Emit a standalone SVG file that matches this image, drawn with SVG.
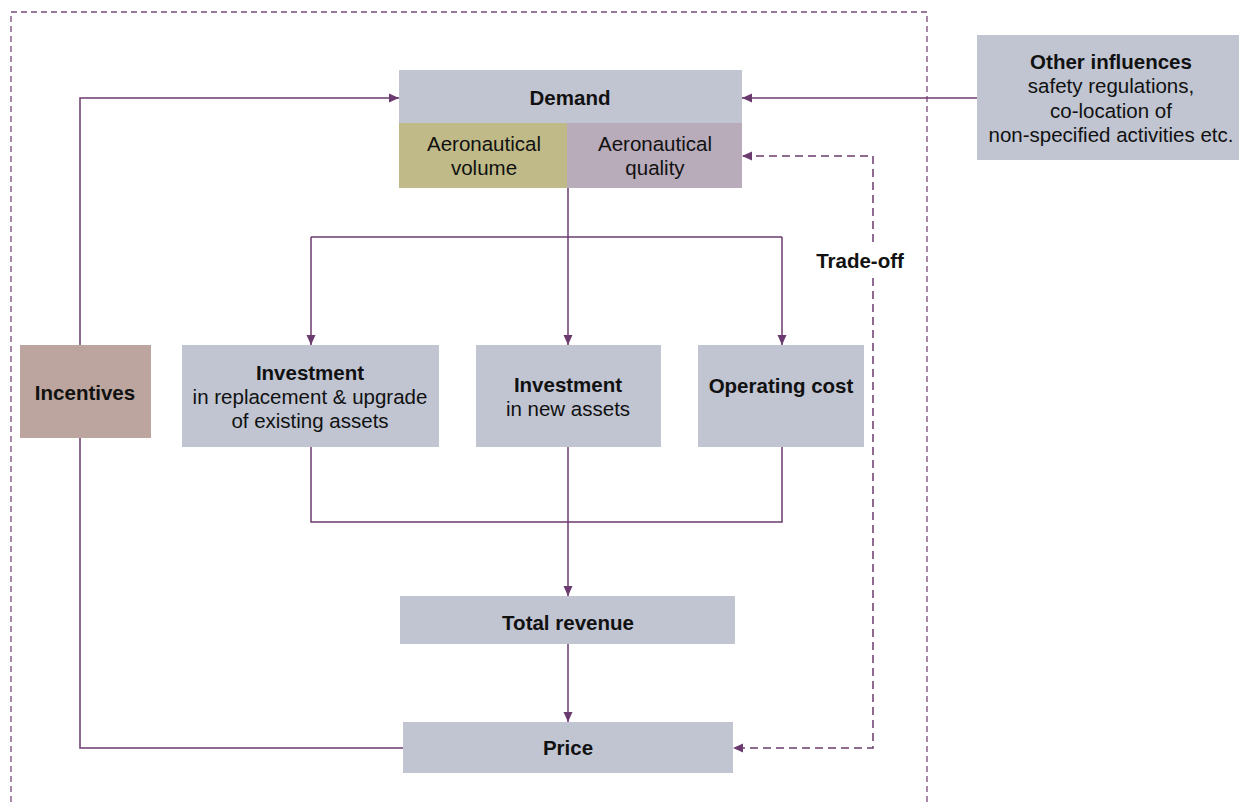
<svg xmlns="http://www.w3.org/2000/svg" width="1239" height="802" viewBox="0 0 1239 802">
  <style>
    text { font-family: "Liberation Sans", Arial, sans-serif; font-size: 20.5px; fill: #111; text-anchor: middle; }
    .b { font-weight: bold; }
    .box { fill: #C0C5D1; }
    .ln { fill: none; stroke: #6B3A6E; stroke-width: 1.5; }
    .dash { fill: none; stroke: #6B3A6E; stroke-width: 1.5; stroke-dasharray: 8 5; }
    .frame { fill: none; stroke: #7A4A7B; stroke-width: 1.3; stroke-dasharray: 6 4; }
  </style>
  <defs>
    <marker id="ah" viewBox="0 0 10 10" refX="10" refY="5" markerWidth="10" markerHeight="10" markerUnits="userSpaceOnUse" orient="auto">
      <path d="M0,0.5 L10,5 L0,9.5 Z" fill="#6B3A6E"/>
    </marker>
  </defs>

  <rect width="1239" height="802" fill="#fff"/>

  <!-- system boundary -->
  <path class="frame" d="M11,812 V12 H927 V812"/>

  <g id="connectors">
    <!-- incentives feed back into demand and price -->
    <path class="ln" d="M80,345 V98 H399" marker-end="url(#ah)"/>
    <path class="ln" d="M80,438 V748 H403"/>
    <!-- other influences -->
    <path class="ln" d="M977,98 H742" marker-end="url(#ah)"/>
    <!-- demand splits into cost drivers -->
    <path class="ln" d="M568,188 V237"/>
    <path class="ln" d="M311,237 H782"/>
    <path class="ln" d="M311,237 V345" marker-end="url(#ah)"/>
    <path class="ln" d="M568,237 V345" marker-end="url(#ah)"/>
    <path class="ln" d="M782,237 V345" marker-end="url(#ah)"/>
    <!-- cost drivers combine into revenue -->
    <path class="ln" d="M311,447 V522 H782 V447"/>
    <path class="ln" d="M568,447 V596" marker-end="url(#ah)"/>
    <path class="ln" d="M568,644 V722" marker-end="url(#ah)"/>
    <!-- trade-off between quality and price -->
    <path class="dash" d="M873,242 V156 H742" marker-end="url(#ah)"/>
    <path class="dash" d="M873,278 V748 H733" marker-end="url(#ah)"/>
    <text class="b" x="860" y="268">Trade-off</text>
  </g>

  <g id="demand">
    <rect class="box" x="399" y="70" width="343" height="53"/>
    <text class="b" x="570" y="105">Demand</text>
  </g>
  <g id="aero-volume">
    <rect x="399" y="123" width="168" height="65" fill="#BFBA87"/>
    <text x="484" y="151">Aeronautical</text>
    <text x="484" y="175">volume</text>
  </g>
  <g id="aero-quality">
    <rect x="567" y="123" width="175" height="65" fill="#B8ABBA"/>
    <text x="655" y="151">Aeronautical</text>
    <text x="655" y="175">quality</text>
  </g>

  <g id="other-influences">
    <rect class="box" x="977" y="35" width="262" height="125"/>
    <text class="b" x="1111" y="69">Other influences</text>
    <text x="1111" y="93">safety regulations,</text>
    <text x="1111" y="118">co-location of</text>
    <text x="1111" y="142">non-specified activities  etc.</text>
  </g>

  <g id="incentives">
    <rect x="20" y="345" width="131" height="93" fill="#BBA59E"/>
    <text class="b" x="85" y="400">Incentives</text>
  </g>

  <g id="invest-replacement">
    <rect class="box" x="182" y="345" width="257" height="102"/>
    <text class="b" x="310" y="380">Investment</text>
    <text x="310" y="404">in replacement &amp; upgrade</text>
    <text x="310" y="428">of existing assets</text>
  </g>

  <g id="invest-new">
    <rect class="box" x="476" y="345" width="185" height="102"/>
    <text class="b" x="568" y="392">Investment</text>
    <text x="568" y="416">in new assets</text>
  </g>

  <g id="operating-cost">
    <rect class="box" x="698" y="345" width="166" height="102"/>
    <text class="b" x="781" y="393">Operating cost</text>
  </g>

  <g id="total-revenue">
    <rect class="box" x="400" y="596" width="335" height="48"/>
    <text class="b" x="568" y="630">Total revenue</text>
  </g>

  <g id="price">
    <rect class="box" x="403" y="722" width="330" height="51"/>
    <text class="b" x="568" y="755">Price</text>
  </g>
</svg>
